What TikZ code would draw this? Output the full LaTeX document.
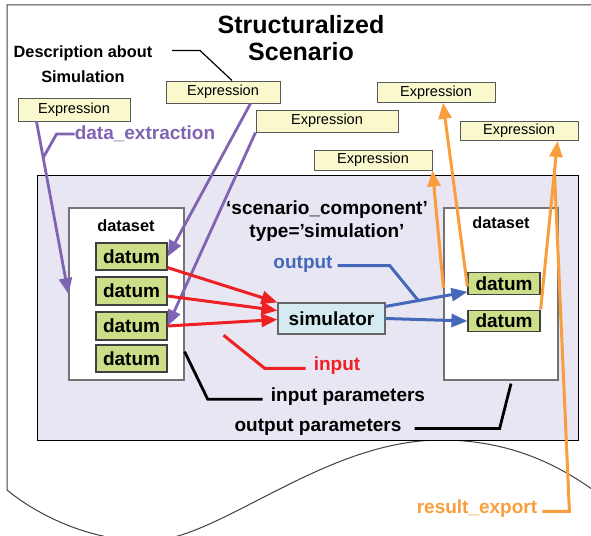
\documentclass[tikz,border=0pt]{standalone}
\usepackage{fontspec}
\setmainfont{Liberation Sans}
\usetikzlibrary{arrows.meta,calc}

\definecolor{extcol}{RGB}{128,100,180}
\definecolor{incol}{RGB}{238,32,36}
\definecolor{outcol}{RGB}{68,104,186}
\definecolor{expcol}{RGB}{248,158,60}
\definecolor{exprfill}{RGB}{250,248,205}
\definecolor{datumfill}{RGB}{204,222,136}
\definecolor{simfill}{RGB}{212,236,241}
\definecolor{areafill}{RGB}{232,230,242}

\begin{document}
\begin{tikzpicture}[x=1pt, y=-1pt,
  lbl/.style={font=\fontsize{19}{23}\selectfont\bfseries, inner sep=0pt},
  small/.style={font=\fontsize{16.3}{25}\selectfont\bfseries, inner sep=0pt},
  expr/.style={draw=black!65, line width=1pt, fill=exprfill, font=\fontsize{14.5}{16}\selectfont, inner sep=0pt},
  datum/.style={draw=black!75, line width=1.2pt, fill=datumfill, font=\fontsize{19}{22}\selectfont\bfseries, inner sep=0pt},
  dset/.style={draw=black!55, line width=1.2pt, fill=white, inner sep=0pt, minimum height=172pt},
  tip/.style={-{Triangle[length=16pt,width=13pt]}},
  extln/.style={extcol, line width=2.8pt},
  inln/.style={incol, line width=3pt},
  outln/.style={outcol, line width=3pt},
  expln/.style={expcol, line width=3pt},
  lead/.style={black, line width=2.8pt}]

  \useasboundingbox (0,0) rectangle (591,535);
  \clip (0,0) rectangle (591,535);

  % the document sheet
  \draw[black!75, line width=1pt] (600,5) -- (7,5) -- (7,490)
        .. controls (50,525) and (110,545) .. (160,540)
        .. controls (230,530) and (330,440) .. (441,440)
        .. controls (510,440) and (560,465) .. (600,495);

  % scenario component area
  \node[draw=black, line width=1pt, fill=areafill, minimum width=541pt, minimum height=265pt, inner sep=0pt] (area) at (307.5,307.5) {};

  % titles
  \node[font=\fontsize{25}{27}\selectfont\bfseries, align=center, inner sep=0pt] (title) at (301,38) {Structuralized\\Scenario};
  \node[small, align=center] (desc) at (83,64) {Description about\\Simulation};

  % expressions
  \node[expr, minimum width=112pt, minimum height=23pt] (ex1) at (74,109.5) {Expression};
  \node[expr, minimum width=114pt, minimum height=22pt] (ex2) at (223,92) {Expression};
  \node[expr, minimum width=142pt, minimum height=22pt] (ex3) at (327,121) {Expression};
  \node[expr, minimum width=118pt, minimum height=19.5pt] (ex4) at (436,92.5) {Expression};
  \node[expr, minimum width=118pt, minimum height=19pt] (ex5) at (519,131) {Expression};
  \node[expr, minimum width=118pt, minimum height=20pt] (ex6) at (373,160) {Expression};

  % datasets
  \node[dset, minimum width=115pt] (lds) at (126.5,294) {};
  \node[dset, minimum width=114pt] (rds) at (501,294) {};
  \node[small] (ldsl) at (126,226) {dataset};
  \node[small] (rdsl) at (501,223) {dataset};

  \node[datum, minimum width=71pt, minimum height=27pt] (dl1) at (131.5,256.5) {datum};
  \node[datum, minimum width=71pt, minimum height=28pt] (dl2) at (131.5,291) {datum};
  \node[datum, minimum width=71pt, minimum height=28pt] (dl3) at (131.5,326) {datum};
  \node[datum, minimum width=71pt, minimum height=27pt] (dl4) at (131.5,358.5) {datum};
  \node[datum, minimum width=72pt, minimum height=21.5pt] (dr1) at (504,283.5) {datum};
  \node[datum, minimum width=72pt, minimum height=21.5pt] (dr2) at (504,321) {datum};

  % simulator
  \node[draw=black!60, line width=1.2pt, fill=simfill, minimum width=107pt, minimum height=31pt, inner sep=0pt, font=\fontsize{19}{22}\selectfont\bfseries] (sim) at (331.5,318.5) {simulator};

  % labels
  \node[lbl, align=center] (scomp) at (327,221) {‘scenario\_component’\\type=’simulation’};
  \node[lbl, text=extcol] (dex) at (145,134) {data\_extraction};
  \node[lbl, text=outcol] (outl) at (303,264) {output};
  \node[lbl, text=incol] (inp) at (337,366) {input};
  \node[lbl] (ipar) at (348,397) {input parameters};
  \node[lbl] (opar) at (318,427) {output parameters};
  \node[lbl, text=expcol] (rex) at (477,509) {result\_export};

  % data extraction
  \coordinate (exs1) at ([xshift=19pt]ex1.south west);
  \draw[extln, tip] (exs1) -- (lds.west);
  \draw[extln] (dex.west) -- ++(-18,0) -- ($(exs1)!0.21!(lds.west)$);
  \draw[extln, tip] ([xshift=-30pt]ex2.south east) -- (dl1.east);
  \draw[extln, tip] (ex3.south west) -- (dl3.east);

  % inputs
  \draw[inln, tip] ([yshift=3pt]dl1.south east) -- (sim.north west);
  \draw[inln, tip] ([yshift=-5pt]dl2.east) -- ([yshift=8pt]sim.west);
  \draw[inln, tip] (dl3.east) -- ([yshift=-1pt]sim.west);
  \draw[inln] ([xshift=-8pt]inp.mid west) -- ++(-41,0) -- ++(-41,-33);

  % outputs
  \coordinate (bo1) at ([yshift=-4pt]sim.north east);
  \coordinate (bi1) at ([yshift=3pt]dr1.south west);
  \draw[outln, tip] (bo1) -- (bi1);
  \draw[outln, tip] (sim.east) -- (dr2.west);
  \draw[outln] ([xshift=5pt]outl.mid east) -- ++(52,0) -- ($(bo1)!0.4!(bi1)$);

  % result export
  \draw[expln, tip] ([yshift=-3pt]dr1.west) -- ([xshift=7pt]ex4.south);
  \draw[expln, tip] ([yshift=6pt]rds.west) -- (ex6.south east);
  \draw[expln, tip] (dr2.north east) -- ([xshift=-21pt]ex5.south east);
  \draw[expln] ([xshift=5pt]rex.mid east) -- ++(27,0) -- ($(dr2.north east)!0.82!([xshift=-21pt]ex5.south east)$);

  % leaders
  \draw[black, line width=1.2pt] ([xshift=9pt]ex2.north) -- ++(-32,-30) -- ++(-28,0);
  \draw[lead] ([xshift=-8pt]ipar.mid west) -- ++(-55,0) -- ([yshift=29pt]lds.south east);
  \draw[lead] ([xshift=13pt]opar.mid east) -- ++(85,0) -- ([xshift=10pt,yshift=-3pt]rds.south);

\end{tikzpicture}
\end{document}
